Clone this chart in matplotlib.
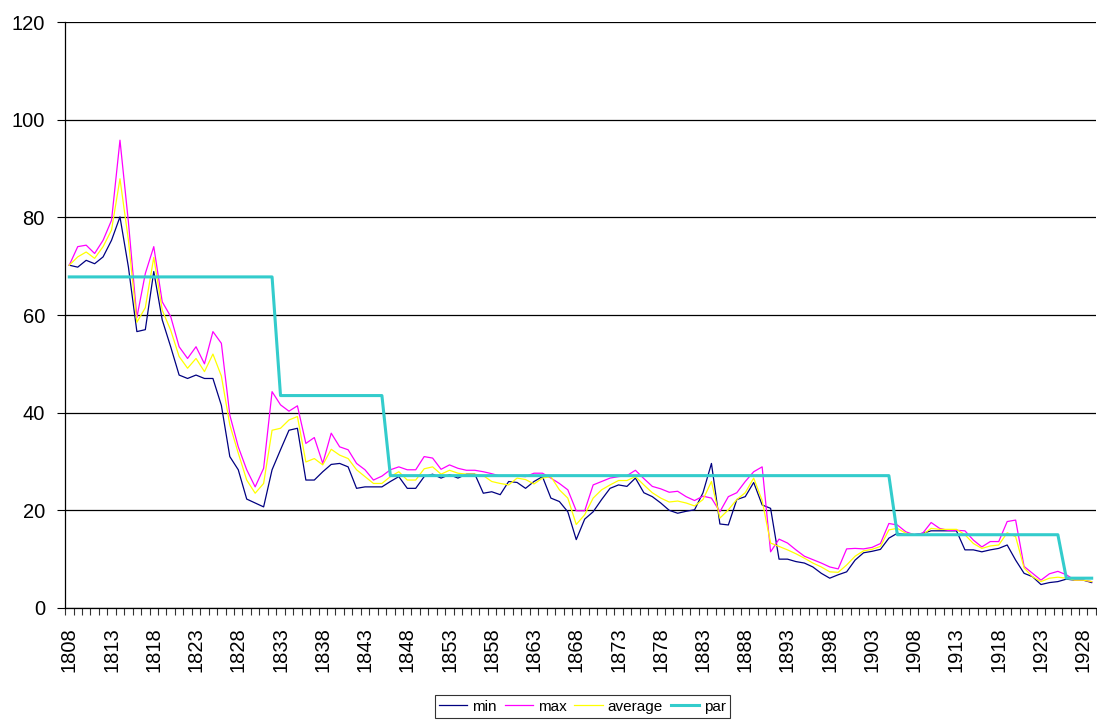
import numpy as np
import matplotlib
matplotlib.use("Agg")
import matplotlib.pyplot as plt

plt.rcParams['font.family'] = ['Liberation Sans', 'DejaVu Sans']

years = list(range(1808, 1930))

min_vals = [70.2, 69.8, 71.2, 70.5, 71.9, 75.3, 80.1, 69.8, 56.6, 57.0,
            68.9, 59.0, 53.5, 47.7, 47.0, 47.7, 47.0, 47.0, 41.5, 31.0,
            28.3, 22.3, 21.5, 20.7, 28.3, 32.4, 36.4, 36.8, 26.2, 26.2,
            27.9, 29.4, 29.6, 28.9, 24.5, 24.8, 24.8, 24.8, 25.9, 26.9,
            24.5, 24.5, 26.9, 27.4, 26.6, 27.3, 26.6, 27.4, 27.4, 23.5,
            23.8, 23.2, 25.9, 25.7, 24.5, 25.9, 26.9, 22.5, 21.8, 19.7,
            14.0, 18.2, 19.7, 22.2, 24.5, 25.2, 24.9, 26.6, 23.6, 22.8,
            21.5, 20.0, 19.4, 19.8, 20.1, 23.6, 29.6, 17.2, 17.0, 22.2,
            22.8, 25.7, 21.1, 20.4, 10.0, 10.0, 9.5, 9.2, 8.4, 7.1,
            6.1, 6.8, 7.4, 9.8, 11.3, 11.6, 12.0, 14.3, 15.3, 15.0,
            15.0, 15.3, 15.8, 15.8, 15.8, 15.8, 11.9, 11.9, 11.5, 11.9,
            12.2, 12.9, 9.8, 7.1, 6.4, 4.8, 5.2, 5.4, 5.9, 5.7,
            5.7, 5.2]

max_vals = [70.2, 74.0, 74.3, 72.6, 75.3, 79.4, 95.8, 79.0, 59.5, 68.5,
            74.0, 62.7, 59.7, 53.5, 51.1, 53.5, 50.0, 56.6, 54.2, 39.5,
            33.0, 28.3, 24.8, 28.6, 44.3, 41.6, 40.3, 41.4, 33.7, 34.9,
            29.6, 35.8, 33.0, 32.4, 29.6, 28.3, 26.2, 27.0, 28.3, 28.9,
            28.3, 28.3, 31.0, 30.7, 28.4, 29.3, 28.6, 28.2, 28.2, 27.9,
            27.5, 27.0, 27.0, 27.0, 26.9, 27.6, 27.6, 26.6, 25.5, 24.2,
            19.9, 19.9, 25.2, 25.9, 26.6, 26.9, 27.1, 28.2, 26.5, 24.9,
            24.4, 23.7, 23.9, 22.8, 22.0, 22.9, 22.5, 19.7, 22.8, 23.6,
            25.9, 27.9, 28.9, 11.5, 14.1, 13.3, 11.9, 10.6, 9.9, 9.2,
            8.4, 8.0, 12.1, 12.2, 12.1, 12.4, 13.2, 17.3, 17.0, 15.6,
            15.0, 15.3, 17.5, 16.3, 15.9, 15.9, 15.8, 13.9, 12.5, 13.6,
            13.6, 17.7, 18.0, 8.5, 7.1, 5.7, 7.0, 7.5, 6.8, 5.7,
            5.7, 5.4]

avg_vals = [70.2, 71.9, 72.9, 71.6, 74.0, 77.4, 87.9, 75.3, 58.5, 61.5,
            71.8, 61.0, 56.9, 51.5, 49.1, 51.1, 48.4, 52.0, 47.5, 37.5,
            31.7, 26.2, 23.5, 25.5, 36.4, 36.8, 38.5, 39.2, 29.9, 30.6,
            29.3, 32.5, 31.3, 30.6, 28.3, 26.9, 25.5, 25.5, 26.9, 27.9,
            26.2, 26.2, 28.5, 28.9, 27.4, 28.2, 27.6, 27.4, 27.4, 27.1,
            25.9, 25.5, 25.2, 26.6, 26.3, 25.4, 26.6, 26.9, 24.2, 22.5,
            17.1, 19.1, 22.5, 24.2, 25.2, 26.1, 26.1, 26.9, 25.2, 23.6,
            22.5, 21.7, 21.9, 21.5, 20.9, 22.2, 25.9, 18.4, 20.1, 22.2,
            23.6, 26.6, 22.0, 13.3, 12.6, 11.9, 11.1, 10.2, 9.2, 8.4,
            7.4, 7.3, 8.8, 10.6, 11.7, 12.0, 12.6, 16.0, 16.3, 15.3,
            15.0, 15.0, 16.3, 16.1, 16.1, 16.1, 15.0, 13.2, 12.2, 12.7,
            12.9, 15.4, 14.6, 8.2, 6.4, 5.4, 6.1, 6.3, 6.1, 5.7,
            5.7, 5.4]

# par is a step series: value per period
par_vals = [67.8] * 25 + [43.5] * 13 + [27.1] * 60 + [15.0] * 20 + [6.1] * 4

fig = plt.figure(figsize=(10.97, 7.2), dpi=100)
ax = fig.add_axes([0.0593, 0.1556, 0.9397, 0.8138])

x = np.arange(len(years))
ax.plot(x, min_vals, color='#000080', lw=0.9, label='min')
ax.plot(x, max_vals, color='#FF00FF', lw=0.9, label='max')
ax.plot(x, avg_vals, color='#FFFF00', lw=0.9, label='average')
ax.plot(x, par_vals, color='#33CCCC', lw=2.2, label='par')

ax.set_xlim(-0.5, len(years) - 0.5)
ax.set_ylim(0, 120)
ax.set_yticks(range(0, 121, 20))
ax.yaxis.grid(True, color='black', lw=0.9)
ax.set_axisbelow(True)

ax.set_xticks(x[::5])
ax.set_xticklabels([str(y) for y in years[::5]], rotation=90, fontsize=14.5)
ax.set_xticks(np.arange(-0.5, len(years), 1), minor=True)
ax.tick_params(axis='x', which='major', length=0, pad=14)
ax.tick_params(axis='x', which='minor', length=5, width=0.8, color='#333333')
ax.tick_params(axis='y', labelsize=14.5, length=5.5, width=0.8, pad=9)

for side in ['top', 'right']:
    ax.spines[side].set_visible(False)
for side in ['left', 'bottom']:
    ax.spines[side].set_color('black')
    ax.spines[side].set_linewidth(0.9)

leg = fig.legend(loc='upper center', bbox_to_anchor=(0.531, 0.045), ncol=4,
                 fontsize=11, frameon=True, fancybox=False, edgecolor='black',
                 handlelength=1.85, handletextpad=0.33, columnspacing=0.5,
                 borderpad=0.3)
leg.get_frame().set_linewidth(0.8)

fig.savefig('out.png', dpi=100)
